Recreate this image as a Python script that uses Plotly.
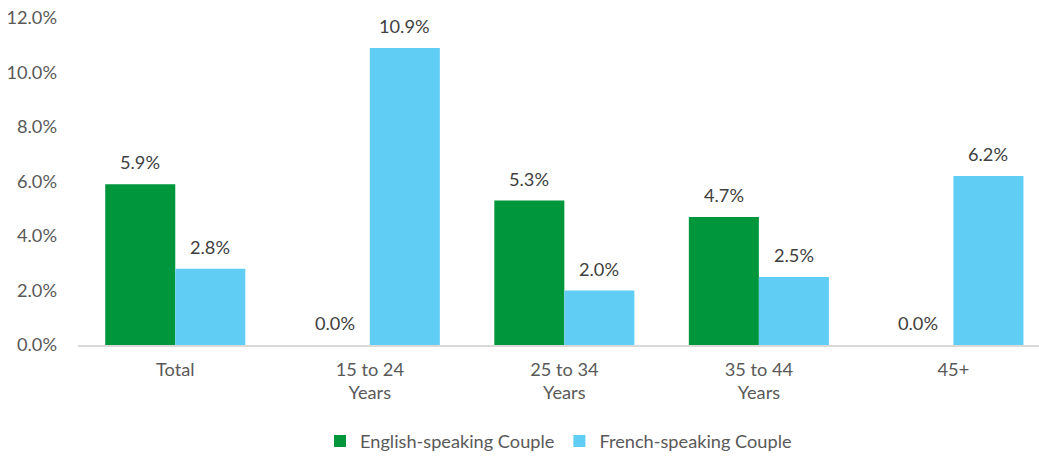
import plotly.graph_objects as go

categories = ["Total", "15 to 24<br>Years", "25 to 34<br>Years", "35 to 44<br>Years", "45+"]
english = [5.9, 0.0, 5.3, 4.7, 0.0]
french = [2.8, 10.9, 2.0, 2.5, 6.2]
series_names = ["English-speaking Couple", "French-speaking Couple"]
colors = ["#00963B", "#5FCDF4"]
ytick_vals = [0, 2, 4, 6, 8, 10, 12]
ytick_text = ["0.0%", "2.0%", "4.0%", "6.0%", "8.0%", "10.0%", "12.0%"]

FONT = "Lato, 'Open Sans', sans-serif"
TXT = "#595959"
FS = 18.2

fig = go.Figure()
for name, vals, col in zip(series_names, [english, french], colors):
    fig.add_trace(go.Bar(x=categories, y=vals, name=name, marker=dict(color=col, line=dict(width=0))))

annotations = []
for vals, shift in [(english, -35), (french, 35)]:
    for c, v in zip(categories, vals):
        annotations.append(dict(x=c, y=v, xref="x", yref="y", text=f"{v:.1f}%", showarrow=False,
                                xshift=shift, yshift=22, yanchor="middle",
                                font=dict(family=FONT, size=FS, color="#404040")))

fig.update_layout(
    width=1039, height=456,
    margin=dict(l=78, r=0, t=18, b=111, autoexpand=False),
    paper_bgcolor="white", plot_bgcolor="white",
    barmode="group", bargap=0.28, bargroupgap=0,
    font=dict(family=FONT, size=FS, color=TXT),
    showlegend=True,
    legend=dict(orientation="h", x=0.5, xanchor="center", xref="paper", y=-0.294, yanchor="middle",
                font=dict(family=FONT, size=FS, color=TXT), traceorder="normal",
                itemwidth=30),
    annotations=annotations,
)
fig.update_xaxes(range=[-0.5, 4.44], showline=True, linecolor="#D9D9D9", linewidth=1.5,
                 showgrid=False, ticks="", automargin=False, ticklabelstandoff=7,
                 tickfont=dict(family=FONT, size=FS, color=TXT))
fig.update_yaxes(range=[0, 12], tickvals=ytick_vals, ticktext=ytick_text, showgrid=False,
                 zeroline=False, showline=False, ticklabelstandoff=20, automargin=False,
                 tickfont=dict(family=FONT, size=FS, color=TXT))

fig.write_html("out.html", config={"displayModeBar": False},
               post_script="document.body.style.margin='0';document.body.style.padding='0';")
